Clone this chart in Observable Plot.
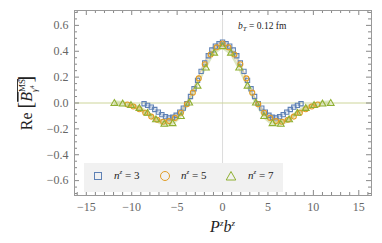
<!DOCTYPE html>
<html><head><meta charset="utf-8">
<script src="https://cdn.jsdelivr.net/npm/d3@7"></script>
<script src="https://cdn.jsdelivr.net/npm/@observablehq/plot@0.6"></script>
<style>
body{margin:0;background:#fff;}
#wrap{position:relative;width:382px;height:243px;font-family:"Liberation Serif",serif;}
.abs{position:absolute;}
.leg{left:84px;top:163px;width:199px;height:29px;background:#f1f1f1;}
.lt{font-size:11px;color:#222;white-space:nowrap;font-family:"Liberation Serif",serif;}
.lt i{font-style:italic;}
.lt sup{font-size:7px;font-style:italic;vertical-align:5px;line-height:0;}
.ann{font-size:9.5px;color:#222;white-space:nowrap;font-family:"Liberation Serif",serif;}
.ann sub{font-size:7px;font-style:italic;vertical-align:-2px;line-height:0;}
</style>
</head><body><div id="wrap"></div>
<script>
// n^z = 3
const x3 = [-8.64,-8.25,-7.85,-7.46,-7.07,-6.68,-6.28,-5.89,-5.50,-5.11,-4.71,-4.32,-3.93,-3.53,-3.14,-2.75,-2.36,-1.96,-1.57,-1.18,-0.79,-0.39,0,0.39,0.79,1.18,1.57,1.96,2.36,2.75,3.14,3.53,3.93,4.32,4.71,5.11,5.50,5.89,6.28,6.68,7.07,7.46,7.85,8.25,8.64];
const y3 = [-0.006,-0.018,-0.032,-0.05,-0.07,-0.09,-0.105,-0.115,-0.11,-0.095,-0.07,-0.04,-0.005,0.05,0.11,0.175,0.245,0.31,0.365,0.41,0.44,0.458,0.47,0.458,0.44,0.41,0.365,0.31,0.245,0.175,0.11,0.05,-0.005,-0.04,-0.07,-0.095,-0.11,-0.115,-0.105,-0.09,-0.07,-0.05,-0.032,-0.018,-0.006];
// n^z = 5
const x5 = [-10.47,-9.82,-9.16,-8.51,-7.85,-7.20,-6.54,-5.89,-5.24,-4.58,-3.93,-3.27,-2.62,-1.96,-1.31,-0.65,0,0.65,1.31,1.96,2.62,3.27,3.93,4.58,5.24,5.89,6.54,7.20,7.85,8.51,9.16,9.82,10.47];
const y5 = [-0.012,-0.027,-0.048,-0.075,-0.105,-0.13,-0.145,-0.14,-0.115,-0.075,-0.01,0.08,0.19,0.30,0.375,0.43,0.46,0.43,0.375,0.30,0.19,0.08,-0.01,-0.075,-0.115,-0.14,-0.145,-0.13,-0.105,-0.075,-0.048,-0.027,-0.012];
// n^z = 7
const x7 = [-11.91,-11.0,-10.08,-9.16,-8.25,-7.33,-6.41,-5.50,-4.58,-3.67,-2.75,-1.83,-0.92,0,0.92,1.83,2.75,3.67,4.58,5.50,6.41,7.33,8.25,9.16,10.08,11.0,11.91];
const y7 = [-0.003,-0.008,-0.02,-0.042,-0.08,-0.13,-0.165,-0.16,-0.105,0.0,0.13,0.27,0.385,0.435,0.385,0.27,0.13,0.0,-0.105,-0.16,-0.165,-0.13,-0.08,-0.042,-0.02,-0.008,-0.003];
const errs = [0.012, 0.015, 0.02];
const seriesNames = ["n^z = 3", "n^z = 5", "n^z = 7"];
const colors = ["#5e81b5", "#e19c24", "#8fb032"];
const symbols = ["square", "circle", "triangle"];
const xTicks = [-15, -10, -5, 0, 5, 10, 15];
const yTicks = [-0.6, -0.4, -0.2, 0.0, 0.2, 0.4, 0.6];

const xs = [x3, x5, x7], ys = [y3, y5, y7];
const rows = seriesNames.map((s, i) => xs[i].map((x, j) => ({series: s, x, y: ys[i][j], lo: ys[i][j] - errs[i], hi: ys[i][j] + errs[i]})));

const W = 382, H = 243, mL = 74, mR = 11, mT = 10, mB = 48;
const iw = W - mL - mR, ih = H - mT - mB;
const xMinor = d3.range(-16, 17, 1).filter(v => v % 5 !== 0);
const yMinor = d3.range(-14, 15, 1).map(v => v * 0.05).filter((v, i) => (i % 4) !== 2);
const fmtX = d => d < 0 ? "\u2212" + (-d) : String(d);
const tickColor = "#888";

const marks = [];
rows.forEach((r, i) => marks.push(Plot.areaY(r, {x: "x", y1: "lo", y2: "hi", fill: colors[i], fillOpacity: 0.3})));
marks.push(Plot.ruleX([0], {stroke: "#dcdcdc", strokeWidth: 1}));
marks.push(Plot.ruleY([0], {stroke: "#cdd59a", strokeWidth: 1}));
const tk = (vals, len) => [
  Plot.ruleX(vals, {x: d => d, insetTop: ih - len, stroke: tickColor}),
  Plot.ruleX(vals, {x: d => d, insetBottom: ih - len, stroke: tickColor}),
  Plot.ruleY(vals, {y: d => d, insetRight: iw - len, stroke: tickColor}),
  Plot.ruleY(vals, {y: d => d, insetLeft: iw - len, stroke: tickColor})
];
marks.push(...tk(xTicks, 5).slice(0, 2), ...tk(xMinor, 3).slice(0, 2));
marks.push(...tk(yTicks, 5).slice(2), ...tk(yMinor, 3).slice(2));
marks.push(Plot.frame({stroke: "#999"}));
const radii = [2.4, 2.5, 2.5];
rows.forEach((r, i) => marks.push(Plot.dot(r, {x: "x", y: "y", symbol: symbols[i], r: radii[i], stroke: colors[i], fill: "none", strokeWidth: 1.1})));
marks.push(Plot.axisX(xTicks, {tickSize: 0, tickPadding: 7, tickFormat: fmtX, label: null, fill: "#666"}));
marks.push(Plot.axisY(yTicks, {tickSize: 0, tickPadding: 6, tickFormat: d3.format(".1f"), label: null, fill: "#666"}));

const chart = Plot.plot({
  width: W, height: H, marginLeft: mL, marginRight: mR, marginTop: mT, marginBottom: mB,
  x: {domain: [-16.3, 16.4]}, y: {domain: [-0.715, 0.715]},
  style: {fontFamily: "'Liberation Serif', serif", fontSize: "12px", background: "#fff"},
  marks
});
const wrap = document.getElementById("wrap");
wrap.appendChild(chart);

const svg = d3.select(chart);
const yl = svg.append("text").attr("transform", "translate(32,103) rotate(-90)")
  .attr("text-anchor", "middle").attr("font-family", "'Liberation Serif', serif").attr("fill", "#222").attr("font-size", 16);
yl.append("tspan").text("Re ");
yl.append("tspan").attr("font-size", 20).text("[");
yl.append("tspan").attr("font-style", "italic").attr("style", "text-decoration:overline").text("B");
yl.append("tspan").attr("font-size", 9).attr("dy", -7).attr("style", "text-decoration:overline").text("MS");
yl.append("tspan").attr("font-size", 9).attr("dx", -13).attr("dy", 12).attr("font-style", "italic").text("γ");
yl.append("tspan").attr("font-size", 6).attr("dy", -3).text("4");
yl.append("tspan").attr("font-size", 20).attr("dx", 3).attr("dy", -2).text("]");
const xl = svg.append("text").attr("x", mL + iw / 2).attr("y", 232).attr("text-anchor", "middle")
  .attr("font-family", "'Liberation Serif', serif").attr("fill", "#222").attr("font-size", 16).attr("font-style", "italic");
xl.append("tspan").text("P");
xl.append("tspan").attr("font-size", 9).attr("dy", -6).text("z");
xl.append("tspan").attr("dy", 6).text("b");
xl.append("tspan").attr("font-size", 9).attr("dy", -6).text("z");

const leg = document.createElement("div");
leg.className = "abs leg"; wrap.appendChild(leg);
const legPos = [[98, 114], [165, 181], [231, 248]];
seriesNames.forEach((s, i) => {
  const ic = d3.create("svg").attr("width", 12).attr("height", 12)
    .style("position", "absolute").style("left", (legPos[i][0] - 6) + "px").style("top", "170px");
  if (symbols[i] === "square") ic.append("rect").attr("x", 2.5).attr("y", 2.5).attr("width", 7).attr("height", 7);
  else if (symbols[i] === "circle") ic.append("circle").attr("cx", 6).attr("cy", 6).attr("r", 4.5);
  else ic.append("path").attr("d", "M6,1.5L10.8,10L1.2,10Z");
  ic.selectAll("*").attr("fill", "none").attr("stroke", colors[i]).attr("stroke-width", 1);
  wrap.appendChild(ic.node());
  const t = document.createElement("div");
  t.className = "abs lt"; t.style.left = legPos[i][1] + "px"; t.style.top = "169px";
  const parts = s.split("^z");
  t.innerHTML = "<i>n</i><sup>z</sup>" + parts[1];
  wrap.appendChild(t);
});
const ann = document.createElement("div");
ann.className = "abs ann"; ann.style.left = "238px"; ann.style.top = "21px";
ann.innerHTML = "<i>b</i><sub>T</sub> = 0.12 fm";
wrap.appendChild(ann);
</script>
</body></html>
